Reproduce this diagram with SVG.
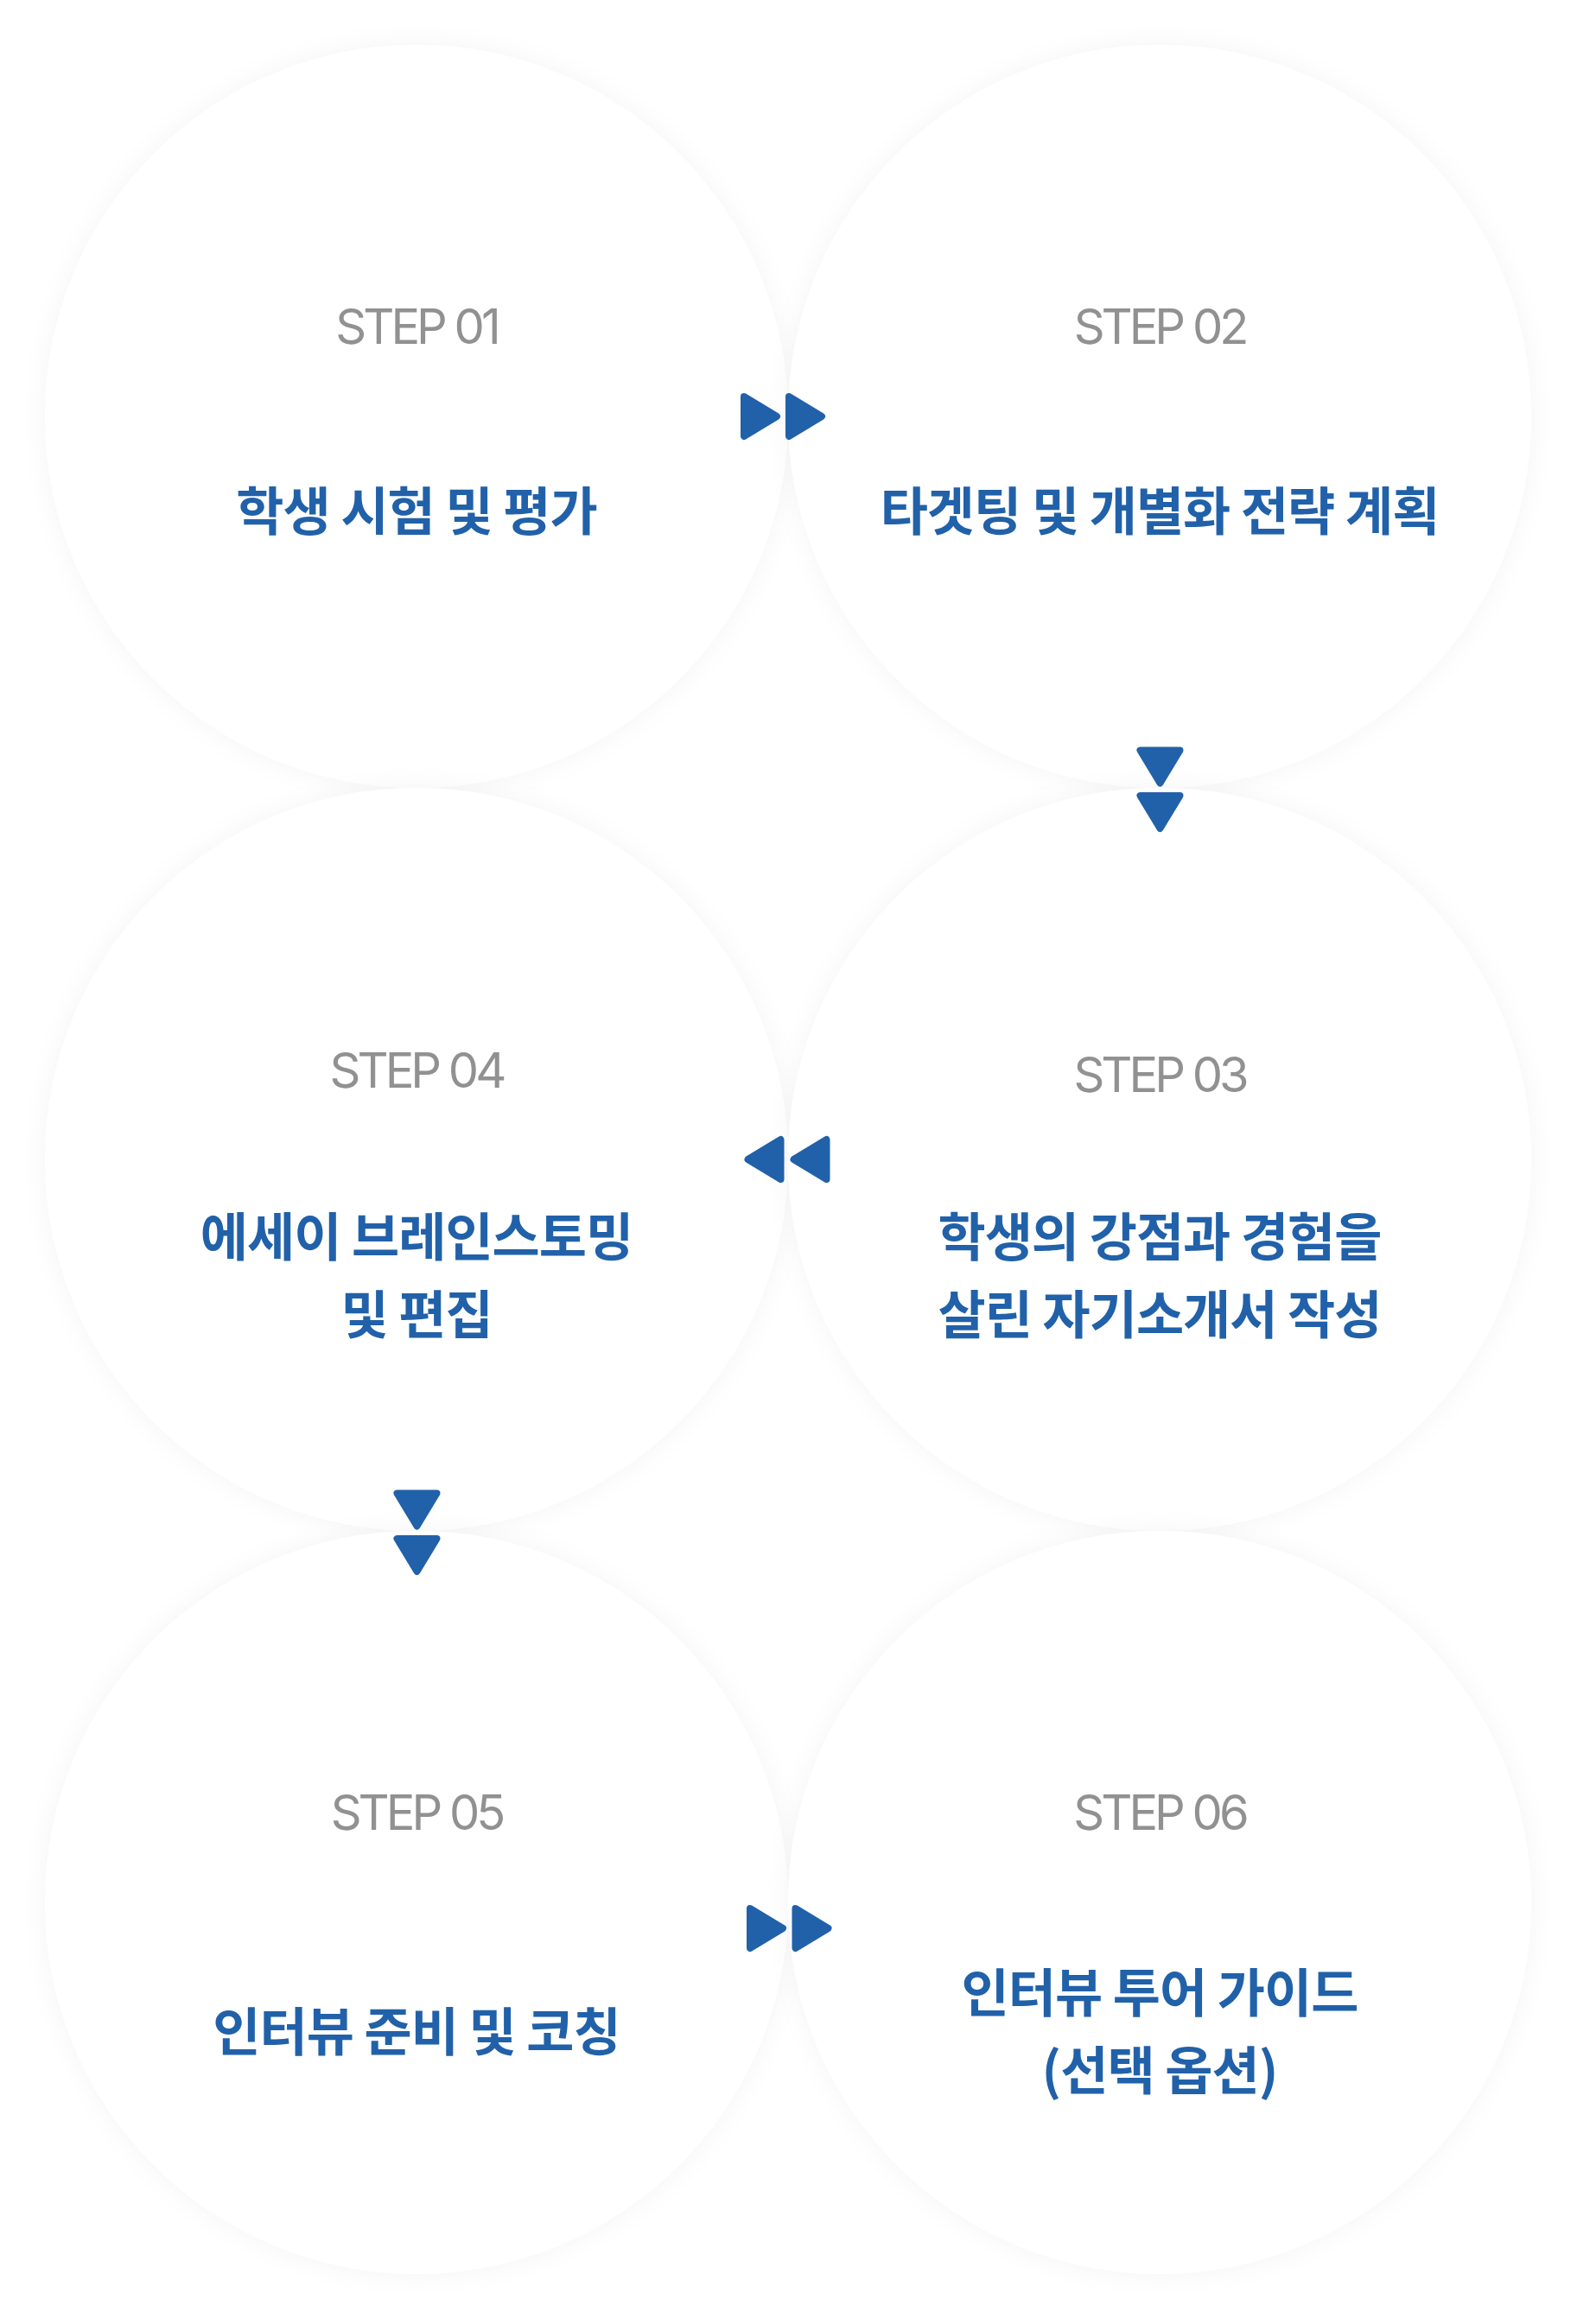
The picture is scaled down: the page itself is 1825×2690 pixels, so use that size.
<svg xmlns="http://www.w3.org/2000/svg" width="1825" height="2690" viewBox="0 0 1825 2690">
<style>
.step{font-family:Inter,"Noto Sans",sans-serif;font-size:56px;font-weight:400;fill:#919191;letter-spacing:-4px;text-anchor:middle}
.title{font-family:"Noto Sans CJK KR","Noto Sans",sans-serif;font-size:60px;font-weight:700;fill:#2161A9;letter-spacing:-1px;text-anchor:middle}
.arrow{fill:#2161A9;stroke:#2161A9;stroke-width:8;stroke-linejoin:round}
.circle{fill:#ffffff;filter:url(#sh)}
</style>
<defs>
<filter id="sh" x="-20%" y="-20%" width="140%" height="140%">
<feDropShadow dx="0" dy="0" stdDeviation="14" flood-color="#000000" flood-opacity="0.045"/>
</filter>
<path id="tri" class="arrow" d="M-19,-23 L19,0 L-19,23 Z"/>
</defs>
<rect width="1825" height="2690" fill="#ffffff"/>
<g id="step01">
<circle class="circle" cx="482" cy="482" r="430"/>
<text class="step" x="482" y="398">STEP 01</text>
<text class="title" x="482" y="614">학생 시험 및 평가</text>
</g>
<g id="step02">
<circle class="circle" cx="1342" cy="482" r="430"/>
<text class="step" x="1342" y="398">STEP 02</text>
<text class="title" x="1342" y="614">타겟팅 및 개별화 전략 계획</text>
</g>
<g id="step04">
<circle class="circle" cx="482" cy="1342" r="430"/>
<text class="step" x="482" y="1259">STEP 04</text>
<text class="title" x="482" y="1454">에세이 브레인스토밍</text>
<text class="title" x="482" y="1544">및 편집</text>
</g>
<g id="step03">
<circle class="circle" cx="1342" cy="1342" r="430"/>
<text class="step" x="1342" y="1264">STEP 03</text>
<text class="title" x="1342" y="1454">학생의 강점과 경험을</text>
<text class="title" x="1342" y="1544">살린 자기소개서 작성</text>
</g>
<g id="step05">
<circle class="circle" cx="482" cy="2202" r="430"/>
<text class="step" x="482" y="2118">STEP 05</text>
<text class="title" x="482" y="2374">인터뷰 준비 및 코칭</text>
</g>
<g id="step06">
<circle class="circle" cx="1342" cy="2202" r="430"/>
<text class="step" x="1342" y="2118">STEP 06</text>
<text class="title" x="1342" y="2329">인터뷰 투어 가이드</text>
<text class="title" x="1342" y="2419">(선택 옵션)</text>
</g>
<g id="connectors">
<use href="#tri" transform="translate(880,482)"/>
<use href="#tri" transform="translate(932,482)"/>
<use href="#tri" transform="translate(1342.5,887.5) rotate(90)"/>
<use href="#tri" transform="translate(1342.5,940) rotate(90)"/>
<use href="#tri" transform="translate(937.5,1342) rotate(180)"/>
<use href="#tri" transform="translate(884.5,1342) rotate(180)"/>
<use href="#tri" transform="translate(482.5,1747.5) rotate(90)"/>
<use href="#tri" transform="translate(482.5,1800) rotate(90)"/>
<use href="#tri" transform="translate(887,2232)"/>
<use href="#tri" transform="translate(939.5,2232)"/>
</g>
</svg>
